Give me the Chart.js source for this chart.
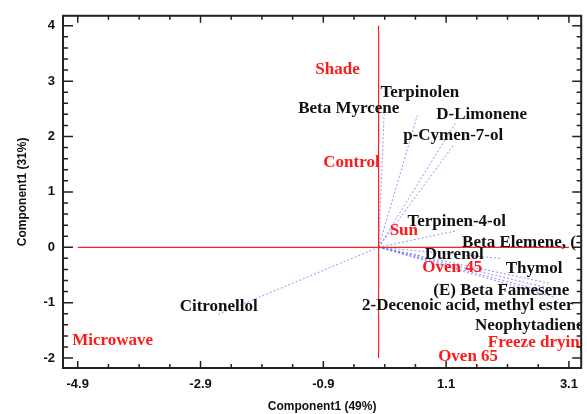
<!DOCTYPE html>
<html>
<head>
<meta charset="utf-8">
<script src="https://cdn.jsdelivr.net/npm/chart.js@4.4.1/dist/chart.umd.min.js"></script>
<style>
html,body{margin:0;padding:0;background:#fff;}
canvas{display:block;}
</style>
</head>
<body>
<canvas id="c" width="587" height="414"></canvas>
<script>
// ---- Data ----
const xTicks = [-4.9, -2.9, -0.9, 1.1, 3.1];
const yTicks = [-2, -1, 0, 1, 2, 3, 4];

// Loadings (variables): vector end points
const varNames = ["Beta Myrcene", "Terpinolen", "D-Limonene", "p-Cymen-7-ol", "Terpinen-4-ol",
  "Beta Elemene, (-)", "Durenol", "Thymol", "(E) Beta Famesene",
  "2-Decenoic acid, methyl ester", "Neophytadiene", "Citronellol"];
const varX = [0.09, 0.63, 1.25, 1.23, 1.28, 1.98, 0.68, 2.78, 2.78, 2.85, 2.74, -2.61];
const varY = [2.40, 2.38, 2.24, 1.86, 0.30, -0.20, -0.15, -0.65, -0.74, -0.90, -0.81, -1.21];
// Loading label anchors (left/middle of text)
const varLabelX = [-1.31, 0.03, 0.94, 0.40, 0.47, 1.36, 0.75, 2.07, 0.89, -0.27, 1.57, -3.24];
const varLabelY = [2.50, 2.80, 2.40, 2.02, 0.47, 0.09, -0.13, -0.39, -0.78, -1.06, -1.41, -1.07];

// Scores (treatments): label anchors (left/middle of text)
const obsNames = ["Shade", "Control", "Sun", "Oven 45", "Microwave", "Freeze drying", "Oven 65"];
const obsX = [-1.03, -0.90, 0.18, 0.71, -4.99, 1.78, 0.97];
const obsY = [3.21, 1.52, 0.30, -0.36, -1.68, -1.73, -1.97];

// Reference cross lines
const hLine = {x: [-4.9, 3.1], y: [0, 0]};
const vLine = {x: [0, 0], y: [-2, 4]};

// ---- Build datasets ----
const datasets = [];
datasets.push({data: hLine.x.map((v,i)=>({x:v, y:hLine.y[i]})), showLine:true, borderColor:'#ff2020', borderWidth:1.2, pointRadius:0});
datasets.push({data: vLine.x.map((v,i)=>({x:v, y:vLine.y[i]})), showLine:true, borderColor:'#ff2020', borderWidth:1.2, pointRadius:0});
varNames.forEach((n,i)=>{
  datasets.push({label:n, data:[{x:0,y:0},{x:varX[i],y:varY[i]}], showLine:true,
    borderColor:'rgba(110,110,255,0.75)', borderWidth:1, borderDash:[2,2], pointRadius:0});
});

const SERIF = 'bold 17px "Liberation Serif", "Times New Roman", serif';

const labelPlugin = {
  id:'labels',
  afterDatasetsDraw(chart){
    const ctx = chart.ctx, xs = chart.scales.x, ys = chart.scales.y, a = chart.chartArea;
    ctx.save();
    ctx.beginPath(); ctx.rect(a.left, a.top, a.right-a.left, a.bottom-a.top); ctx.clip();
    ctx.font = SERIF; ctx.textAlign = 'left'; ctx.textBaseline = 'middle';
    ctx.fillStyle = '#111';
    varNames.forEach((n,i)=>ctx.fillText(n, xs.getPixelForValue(varLabelX[i]), ys.getPixelForValue(varLabelY[i])));
    ctx.fillStyle = '#ff1a1a';
    obsNames.forEach((n,i)=>ctx.fillText(n, xs.getPixelForValue(obsX[i]), ys.getPixelForValue(obsY[i])));
    ctx.restore();
  },
  afterDraw(chart){
    const ctx = chart.ctx, xs = chart.scales.x, ys = chart.scales.y, a = chart.chartArea;
    ctx.save();
    ctx.strokeStyle = '#222';
    ctx.lineWidth = 2;
    ctx.strokeRect(a.left, a.top, a.right-a.left, a.bottom-a.top);
    ctx.lineWidth = 1.5;
    ctx.beginPath();
    // x ticks (major every 2, minor every 0.5)
    for (let k = 0; k <= 16; k++) {
      const v = xTicks[0] + k*0.5;
      const px = xs.getPixelForValue(v);
      const len = (k % 4 === 0) ? 7 : 4;
      ctx.moveTo(px, a.bottom); ctx.lineTo(px, a.bottom - len);
      ctx.moveTo(px, a.top); ctx.lineTo(px, a.top + len);
    }
    // y ticks (major every 1, minor every 0.2)
    for (let k = 0; k <= 30; k++) {
      const v = yTicks[0] + k*0.2;
      const py = ys.getPixelForValue(v);
      const len = (k % 5 === 0) ? 10 : 5;
      ctx.moveTo(a.left, py); ctx.lineTo(a.left + len, py);
      ctx.moveTo(a.right, py); ctx.lineTo(a.right - len*0.9, py);
    }
    ctx.stroke();
    ctx.restore();
  }
};

const tickFont = {family:'"Liberation Sans", Arial, sans-serif', size:13, weight:'bold'};
const titleFont = {family:'"Liberation Sans", Arial, sans-serif', size:12, weight:'bold', lineHeight:1.2};

new Chart(document.getElementById('c'), {
  type:'scatter',
  data:{datasets},
  options:{
    responsive:false,
    animation:false,
    devicePixelRatio:1,
    layout:{padding:{top:14, right:2, left:0, bottom:0}},
    plugins:{legend:{display:false}, tooltip:{enabled:false}},
    scales:{
      x:{
        type:'linear', min:-5.14, max:3.30,
        afterBuildTicks(s){ s.ticks = xTicks.map(v=>({value:v})); },
        afterFit(s){ s.height = 46; },
        grid:{display:false, drawTicks:false},
        border:{display:false},
        ticks:{font:tickFont, color:'#111', padding:9, maxRotation:0, autoSkip:false,
          callback:(v)=>v.toFixed(1)},
        title:{display:true, text:'Component1 (49%)', font:titleFont, color:'#111', padding:{top:0,bottom:0}}
      },
      y:{
        type:'linear', min:-2.18, max:4.18,
        afterBuildTicks(s){ s.ticks = yTicks.map(v=>({value:v})); },
        afterFit(s){ s.width = 63; },
        grid:{display:false, drawTicks:false},
        border:{display:false},
        ticks:{font:tickFont, color:'#111', padding:8, autoSkip:false,
          callback:(v)=>String(v)},
        title:{display:true, text:'Component1 (31%)', font:titleFont, color:'#111', padding:{top:15,bottom:0}}
      }
    }
  },
  plugins:[labelPlugin]
});
</script>
</body>
</html>
